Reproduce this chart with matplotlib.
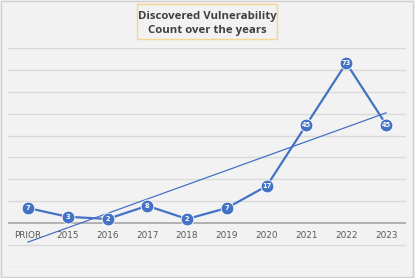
import numpy as np
import matplotlib
matplotlib.use('Agg')
import matplotlib.pyplot as plt
from matplotlib.patches import Rectangle

# data
years  = ['PRIOR', '2015', '2016', '2017', '2018', '2019', '2020', '2021', '2022', '2023']
counts = [7, 3, 2, 8, 2, 7, 17, 45, 73, 45]

blue = '#4472C4'
bg   = '#F2F2F2'

fig = plt.figure(figsize=(4.15, 2.78), dpi=100)
fig.patch.set_facecolor(bg)
# thin border round the chart area
fig.patches.append(Rectangle((0.002, 0.004), 0.994, 0.992, transform=fig.transFigure,
                             fill=False, edgecolor='#D0D0D0', linewidth=1.0))

ax = fig.add_axes([0.0193, 0.0385, 0.959, 0.790])
ax.set_facecolor(bg)
x = np.arange(len(years))

# horizontal gridlines every 10, axis line at 0
for g in range(-20, 81, 10):
    if g == 0:
        continue
    ax.axhline(g, color='#D9D9D9', linewidth=1.0, zorder=1)
ax.axhline(0, color='#A6A6A6', linewidth=1.2, zorder=1)

# linear trendline
k, b = np.polyfit(x, counts, 1)
ax.plot(x, k * x + b, '-', color=blue, linewidth=0.9, zorder=2)

# main series
ax.plot(x, counts, '-', color=blue, linewidth=1.6, zorder=3)
ax.plot(x, counts, 'o', color=blue, markersize=9.2, markeredgecolor='white',
        markeredgewidth=0.6, zorder=4)
for xi, v in zip(x, counts):
    ax.text(xi, v, str(v), color='white', fontsize=4.8, fontweight='bold',
            ha='center', va='center', zorder=5)

# category labels sit just under the zero line
for xi, lab in zip(x, years):
    ax.text(xi, -3.3, lab, color='#595959', fontsize=6.4, ha='center', va='top', zorder=5)

ax.set_xlim(-0.5, 9.5)
ax.set_ylim(-20, 80)
ax.set_xticks([])
ax.set_yticks([])
for s in ax.spines.values():
    s.set_visible(False)

# boxed title
fig.patches.append(Rectangle((137 / 415, 1 - 39 / 278), 140 / 415, 35 / 278,
                             transform=fig.transFigure, facecolor=bg,
                             edgecolor='#F3D78C', linewidth=1.0))
fig.text(207 / 415, 1 - 23.5 / 278, 'Discovered Vulnerability\nCount over the years',
         ha='center', va='center', fontsize=8.2, fontweight='bold', color='#404040',
         family='Open Sans', linespacing=1.4)

plt.savefig('out.png', dpi=100, facecolor=bg)
